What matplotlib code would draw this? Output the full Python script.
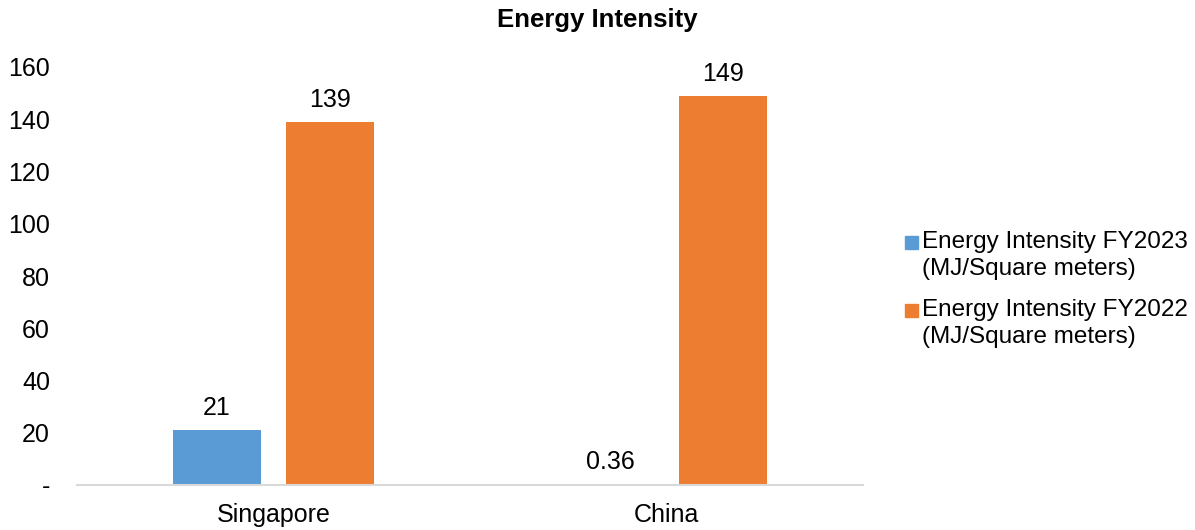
import matplotlib
matplotlib.use('Agg')
import matplotlib.pyplot as plt
from matplotlib.patches import Rectangle
import numpy as np

plt.rcParams['font.family'] = ['Liberation Sans', 'DejaVu Sans']

regions = ['Singapore', 'China']
fy2023 = [21, 0.36]
fy2022 = [139, 149]
labels_2023 = ['21', '0.36']
labels_2022 = ['139', '149']
series_names = ['Energy Intensity FY2023\n(MJ/Square meters)',
                'Energy Intensity FY2022\n(MJ/Square meters)']
yticks = [0, 20, 40, 60, 80, 100, 120, 140, 160]
ytick_labels = ['-', '20', '40', '60', '80', '100', '120', '140', '160']

blue = '#5B9BD5'
orange = '#ED7D31'
W, H = 1195, 530

fig = plt.figure(figsize=(W / 100, H / 100), dpi=100)
ax = fig.add_axes([77 / W, 45 / H, 786 / W, 418 / H])

x = np.arange(len(regions))
w = 0.224
off = 0.144
b1 = ax.bar(x - off, fy2023, w, color=blue)
b2 = ax.bar(x + off, fy2022, w, color=orange)

for bars, labs in ((b1, labels_2023), (b2, labels_2022)):
    for bar, lab in zip(bars, labs):
        ax.annotate(lab, (bar.get_x() + bar.get_width() / 2, bar.get_height()),
                    xytext=(0, 7), textcoords='offset points',
                    ha='center', va='bottom', fontsize=18)

ax.set_xlim(-0.5, 1.5)
ax.set_ylim(0, 160)
ax.set_xticks(x)
ax.set_xticklabels(regions, fontsize=18)
ax.set_yticks(yticks)
ax.set_yticklabels(ytick_labels, fontsize=18)
ax.tick_params(axis='both', length=0)
ax.tick_params(axis='y', pad=19.5)
ax.tick_params(axis='x', pad=13)

for s in ('top', 'right', 'left'):
    ax.spines[s].set_visible(False)
ax.spines['bottom'].set_color('#D9D9D9')
ax.spines['bottom'].set_linewidth(1.5)

fig.text(0.5, 1 - 20 / H, 'Energy Intensity', fontsize=18.5, fontweight='bold',
         ha='center', va='center')

# legend: square swatch aligned with the first line of each two-line label
for i, (name, col) in enumerate(zip(series_names, [blue, orange])):
    top = 231 + i * 68
    fig.patches.append(Rectangle((905 / W, 1 - (top + 18) / H), 13 / W, 13 / H,
                                 transform=fig.transFigure, color=col))
    fig.text(922 / W, 1 - top / H, name, fontsize=17.5, ha='left', va='top',
             linespacing=1.32)

fig.savefig('out.png', dpi=100)
plt.close(fig)
